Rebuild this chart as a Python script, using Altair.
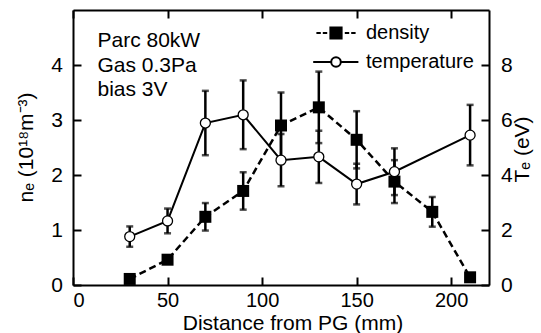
import altair as alt
import pandas as pd

# ---- data ----
dist_ne = [30, 50, 70, 90, 110, 130, 150, 170, 190, 210]
ne = [0.11, 0.46, 1.24, 1.71, 2.90, 3.23, 2.64, 1.88, 1.33, 0.14]
ne_err = [0.05, 0.05, 0.25, 0.34, 0.60, 0.65, 0.52, 0.39, 0.27, 0.05]

dist_te = [30, 50, 70, 90, 110, 130, 150, 170, 210]
te = [1.76, 2.33, 5.89, 6.19, 4.54, 4.66, 3.67, 4.12, 5.45]
te_err = [0.37, 0.45, 1.17, 1.25, 0.95, 0.95, 0.74, 0.85, 1.10]

series = ["density", "temperature"]
annotation = ["Parc 80kW", "Gas 0.3Pa", "bias 3V"]
x_ticks = [0, 50, 100, 150, 200]
ne_ticks = [0, 1, 2, 3, 4]
te_ticks = [0, 2, 4, 6, 8]

FONT = "Liberation Sans"

df_ne = pd.DataFrame({
    "d": dist_ne, "v": ne,
    "lo": [v - e for v, e in zip(ne, ne_err)],
    "hi": [v + e for v, e in zip(ne, ne_err)],
})
df_te = pd.DataFrame({
    "d": dist_te, "v": te,
    "lo": [v - e for v, e in zip(te, te_err)],
    "hi": [v + e for v, e in zip(te, te_err)],
})

xscale = alt.Scale(domain=[0, 220], nice=False, zero=False)
ys_ne = alt.Scale(domain=[0, 5], nice=False)
ys_te = alt.Scale(domain=[0, 10], nice=False)

INWARD = alt.ExprRef("-8")
common_axis = dict(
    grid=False, tickSize=INWARD, tickWidth=2, tickColor="black",
    domainColor="black", domainWidth=2,
    labelFont=FONT, labelColor="black",
    titleFont=FONT, titleFontSize=21, titleFontWeight="normal", titleColor="black",
)

ax_bottom = alt.Axis(orient="bottom", values=x_ticks, title="Distance from PG (mm)",
                     labelFontSize=20, labelPadding=13, titleX=219.5, titleY=44.2,
                     titleBaseline="alphabetic", titleAlign="center", **common_axis)
ax_top = alt.Axis(orient="top", values=x_ticks, labels=False, title="", **common_axis)
ax_left = alt.Axis(orient="left", values=ne_ticks, title="nₑ (10¹⁸m⁻³)",
                   labelFontSize=21, labelPadding=18.5, titleAngle=270, titleX=-41, titleY=137,
                   titleBaseline="alphabetic", titleAlign="center", **common_axis)
ax_right = alt.Axis(orient="right", values=te_ticks, title="Tₑ (eV)",
                    labelFontSize=21, labelPadding=19.5, titleAngle=270, titleX=39, titleY=139,
                    titleBaseline="alphabetic", titleAlign="center", **common_axis)

def X(axis=None):
    if axis is None:
        return alt.X("d:Q", scale=xscale, axis=None)
    return alt.X("d:Q", scale=xscale, axis=axis)

def errs(df, ys):
    base = alt.Chart(df)
    rule = base.mark_rule(strokeWidth=2.5, color="black").encode(
        x=X(), y=alt.Y("lo:Q", scale=ys, axis=None), y2="hi:Q")
    cap_lo = base.mark_tick(orient="horizontal", size=7, thickness=2.5, color="black").encode(
        x=X(), y=alt.Y("lo:Q", scale=ys, axis=None))
    cap_hi = base.mark_tick(orient="horizontal", size=7, thickness=2.5, color="black").encode(
        x=X(), y=alt.Y("hi:Q", scale=ys, axis=None))
    return [rule, cap_lo, cap_hi]

ne_line = alt.Chart(df_ne).mark_line(strokeDash=[7, 4], strokeWidth=2.5, color="black").encode(
    x=X(ax_top), y=alt.Y("v:Q", scale=ys_ne, axis=None))
te_line = alt.Chart(df_te).mark_line(strokeWidth=2, color="black").encode(
    x=X(), y=alt.Y("v:Q", scale=ys_te, axis=None))

ne_pts = alt.Chart(df_ne).mark_point(shape="square", filled=True, size=144, color="black", opacity=1).encode(
    x=X(ax_bottom), y=alt.Y("v:Q", scale=ys_ne, axis=ax_left))
te_pts = alt.Chart(df_te).mark_point(shape="circle", filled=True, size=100, fill="white",
                                     stroke="black", strokeWidth=1.3, opacity=1).encode(
    x=X(), y=alt.Y("v:Q", scale=ys_te, axis=ax_right))

text = alt.Chart(pd.DataFrame({"k": [0]})).mark_text(
    align="left", baseline="alphabetic", font=FONT, fontSize=21, lineHeight=24.5, color="black"
).encode(x=alt.value(24.5), y=alt.value(37.3), text=alt.value(annotation))

path_density = "M-2.45,0H-1.9M-1.65,0H-1.1M-0.7,-0.7H0.7V0.7H-0.7ZM1.1,0H1.65M1.9,0H2.45"
path_temp = "M-2.85,0H-0.6M0.6,0H2.8M0.6,0A0.6,0.6,0,1,1,-0.6,0A0.6,0.6,0,1,1,0.6,0Z"

leg = alt.Legend(title=None, orient="none", legendX=253, legendY=13, symbolSize=256,
                 symbolStrokeWidth=2, symbolStrokeColor="black", symbolOpacity=1,
                 labelFont=FONT, labelFontSize=20, labelColor="black", labelOffset=20,
                 rowPadding=9, padding=0)
legend_layer = alt.Chart(pd.DataFrame({"series": series})).mark_point(
    filled=True, opacity=0, strokeWidth=2
).encode(
    x=alt.value(0), y=alt.value(0),
    shape=alt.Shape("series:N", scale=alt.Scale(domain=series, range=[path_density, path_temp]), legend=leg),
    fill=alt.Fill("series:N", scale=alt.Scale(domain=series, range=["black", "white"]), legend=leg),
    stroke=alt.Stroke("series:N", scale=alt.Scale(domain=series, range=["black", "black"]), legend=leg),
)

layers = errs(df_ne, ys_ne) + errs(df_te, ys_te) + [ne_line, te_line, ne_pts, te_pts, text, legend_layer]

chart = alt.layer(*layers).resolve_scale(y="independent").resolve_axis(
    x="independent", y="independent"
).properties(
    width=416, height=275,
    autosize=alt.AutoSizeParams(type="none"),
    padding={"left": 73, "top": 10, "right": 52, "bottom": 48},
    background="white",
).configure_view(strokeOpacity=0)

chart.save("out.html", embed_options={"renderer": "svg", "actions": False})
